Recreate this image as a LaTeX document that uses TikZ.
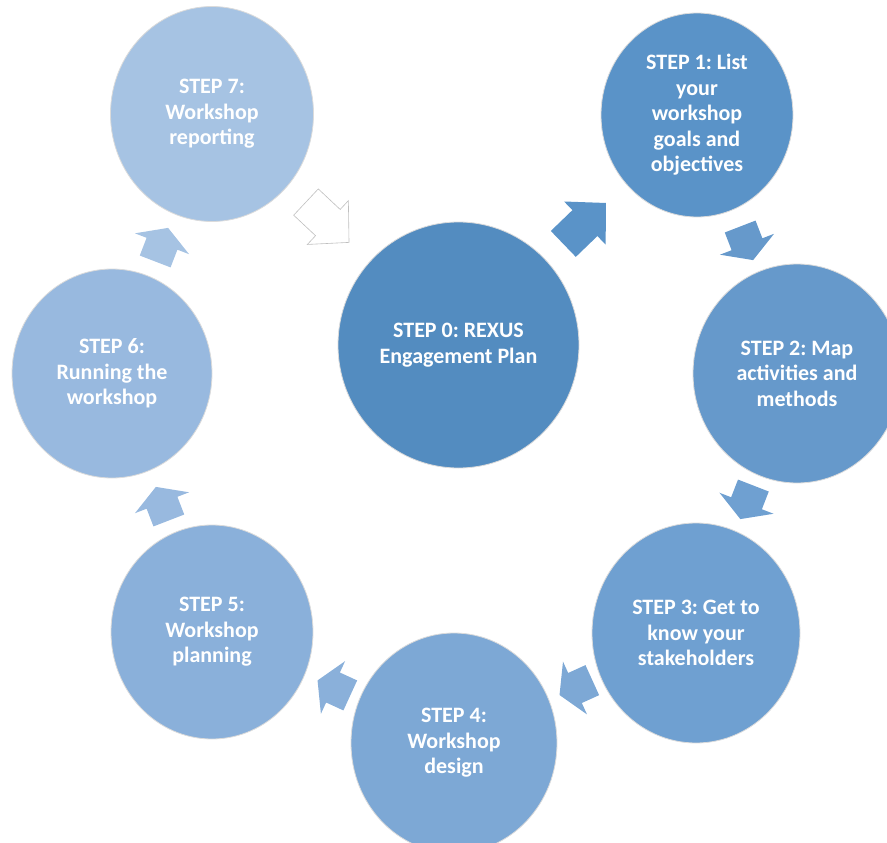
\documentclass[tikz,border=0pt]{standalone}
\usepackage{fontspec}
\setmainfont{Carlito}
\frenchspacing
\usetikzlibrary{calc, positioning, shapes.geometric}
\definecolor{hub}{HTML}{538CC0}
\definecolor{step1}{HTML}{5A93C8}
\definecolor{step2}{HTML}{6699CB}
\definecolor{step3}{HTML}{6FA0D1}
\definecolor{step4}{HTML}{7DA8D5}
\definecolor{step5}{HTML}{8AB0DA}
\definecolor{step6}{HTML}{98B9DF}
\definecolor{step7}{HTML}{A6C3E3}
\tikzset{every node/.style={font=\bfseries\fontsize{22}{25.5}\selectfont}, every path/.style={line join=miter}}
\tikzset{
    stepcircle/.style={ellipse, inner sep=0pt, align=center, text=white, draw=black!14, line width=0.8pt},
    flowarrow/.style={draw=none}
}

\begin{document}
\begin{tikzpicture}[x=1pt, y=-1pt]
    \useasboundingbox (0,0) rectangle (887,843);
    \node [stepcircle, fill=hub, minimum width=241pt, minimum height=246pt] (hub) at (458.5,345) {STEP 0: REXUS\\Engagement Plan};
    \node [stepcircle, fill=step1, minimum width=192pt, minimum height=204pt] (step1) at (697,115) {STEP 1: List\\your\\workshop\\goals and\\objectives};
    \node [stepcircle, fill=step2, minimum width=208pt, minimum height=219pt] (step2) at (797,373.5) {STEP 2: Map\\activities and\\methods};
    \node [stepcircle, fill=step3, minimum width=208pt, minimum height=220pt] (step3) at (696,633) {STEP 3: Get to\\know your\\stakeholders};
    \node [stepcircle, fill=step4, minimum width=206pt, minimum height=220pt] (step4) at (454,743) {STEP 4:\\Workshop\\design};
    \node [stepcircle, fill=step5, minimum width=202pt, minimum height=214pt] (step5) at (212,632) {STEP 5:\\Workshop\\planning};
    \node [stepcircle, fill=step6, minimum width=200pt, minimum height=209pt] (step6) at (112,373.5) {STEP 6:\\Running the\\workshop};
    \node [stepcircle, fill=step7, minimum width=203pt, minimum height=215pt] (step7) at (212,114) {STEP 7:\\Workshop\\reporting};

    % small block arrows around the ring
    \foreach \a/\b in {step1/step2, step2/step3, step3/step4, step4/step5, step5/step6, step6/step7}
        \draw [flowarrow, fill=\b] let \p1=(\a), \p2=(\b), \n1={atan2(\y2-\y1,\x2-\x1)} in
            [shift={($(\a)!0.5!(\b)$)}, rotate=\n1]
            (-19,-16.5) -- (0,-16.5) -- (0,-29) -- (17,0) -- (0,29) -- (0,16.5) -- (-19,16.5) -- cycle;

    % large arrows to and from the centre
    \draw [flowarrow, fill=step1] let \p1=(hub), \p2=(step1), \n1={atan2(\y2-\y1,\x2-\x1)} in
        [shift={($(hub)!0.53!(step1)$)}, rotate=\n1]
        (-30,-18) -- (0,-18) -- (0,-30) -- (29,0) -- (0,30) -- (0,18) -- (-30,18) -- cycle;
    \draw [fill=white, draw=black!25, line width=0.6pt] let \p1=(step7), \p2=(hub), \n1={atan2(\y2-\y1,\x2-\x1)} in
        [shift={($(step7)!0.47!(hub)$)}, rotate=\n1]
        (-30,-18) -- (0,-18) -- (0,-30) -- (29,0) -- (0,30) -- (0,18) -- (-30,18) -- cycle;
\end{tikzpicture}
\end{document}
